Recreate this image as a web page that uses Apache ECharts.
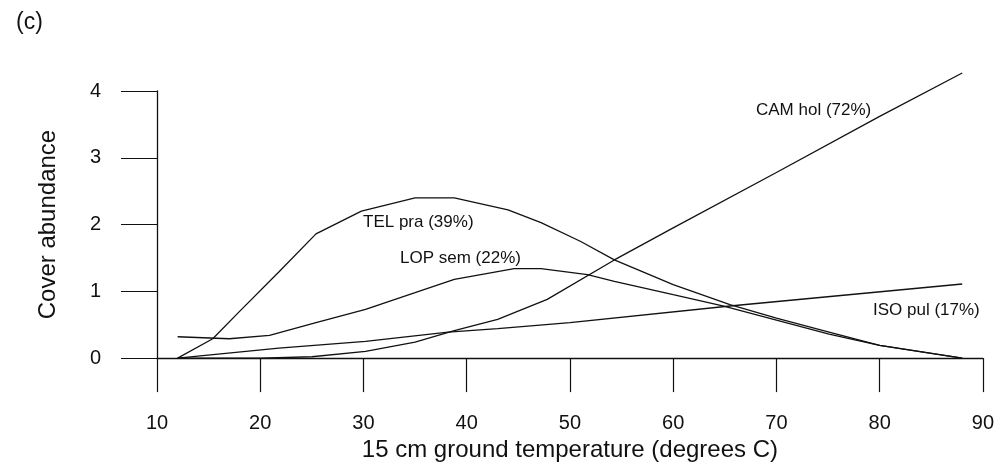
<!DOCTYPE html>
<html>
<head>
<meta charset="utf-8">
<script src="https://cdn.jsdelivr.net/npm/echarts@6/dist/echarts.min.js"></script>
<style>
html,body{margin:0;padding:0;background:#fff;}
#chart{width:997px;height:467px;}
</style>
</head>
<body>
<div id="chart"></div>
<script>
// ---- data ----
var xTicks = [10, 20, 30, 40, 50, 60, 70, 80, 90];
var yTicks = [0, 1, 2, 3, 4];

var telX = [12, 15.4, 18, 21.8, 25.4, 29.8, 35, 38.8, 44, 47.2, 51, 54.3, 60, 65.5, 70, 75.1, 80, 88];
var telY = [0, 0.29, 0.70, 1.29, 1.86, 2.2, 2.4, 2.4, 2.22, 2.03, 1.75, 1.47, 1.1, 0.80, 0.6, 0.39, 0.19, 0];

var lopX = [12, 17, 20.9, 25.4, 30.2, 35, 38.8, 44.6, 47.2, 51.7, 54.3, 60, 64.9, 70, 75.1, 80, 88];
var lopY = [0.32, 0.29, 0.34, 0.53, 0.73, 0.98, 1.18, 1.34, 1.34, 1.25, 1.15, 0.95, 0.78, 0.57, 0.36, 0.19, 0];

var isoX = [12, 21.8, 30.2, 38.2, 43, 50, 65.5, 88];
var isoY = [0, 0.15, 0.25, 0.39, 0.44, 0.53, 0.78, 1.11];

var camX = [12, 20, 25, 30.2, 35, 38.8, 43, 47.8, 54.3, 60, 70, 80, 88];
var camY = [0, 0, 0.02, 0.10, 0.24, 0.41, 0.58, 0.88, 1.47, 1.95, 2.78, 3.62, 4.27];

var seriesNames = ['TEL pra (39%)', 'LOP sem (22%)', 'ISO pul (17%)', 'CAM hol (72%)'];
var xTitle = '15 cm ground temperature (degrees C)';
var yTitle = 'Cover abundance';
var panelTag = '(c)';

function pairs(xs, ys) { return xs.map(function (x, i) { return [x, ys[i]]; }); }

var FONT = '"Liberation Sans", Arial, sans-serif';
var chart = echarts.init(document.getElementById('chart'), null, {renderer: 'canvas'});

var lineStyle = {color: '#111', width: 1.3};
function mkSeries(name, xs, ys) {
  return {name: name, type: 'line', data: pairs(xs, ys), showSymbol: false, symbol: 'none',
    clip: false, lineStyle: lineStyle, animation: false, silent: true, z: 3};
}

var labelPos = [
  {text: seriesNames[0], left: 363, y: 222},
  {text: seriesNames[1], left: 400, y: 258},
  {text: seriesNames[3], left: 756, y: 110},
  {text: seriesNames[2], left: 873, y: 310}
];

var graphics = labelPos.map(function (l) {
  return {type: 'text', left: l.left, top: l.y - 8, z: 10,
    style: {text: l.text, font: '17px ' + FONT, fill: '#111'}};
});
graphics.push({type: 'text', left: 16, top: 11, z: 10,
  style: {text: panelTag, font: '23px ' + FONT, fill: '#111'}});

chart.setOption({
  animation: false,
  backgroundColor: '#fff',
  grid: {left: 157, right: 9, top: 91, bottom: 104, containLabel: false},
  xAxis: {
    type: 'value', min: xTicks[0], max: xTicks[xTicks.length - 1], interval: 10,
    name: xTitle, nameLocation: 'middle', nameGap: 78,
    nameTextStyle: {fontFamily: FONT, fontSize: 24, color: '#111'},
    axisLine: {show: true, onZero: false, lineStyle: {color: '#111', width: 1.3}},
    axisTick: {show: true, inside: false, length: 34, lineStyle: {color: '#111', width: 1.2}},
    axisLabel: {margin: 55, fontFamily: FONT, fontSize: 20, color: '#111'},
    splitLine: {show: false}
  },
  yAxis: {
    type: 'value', min: yTicks[0], max: yTicks[yTicks.length - 1], interval: 1,
    name: yTitle, nameLocation: 'middle', nameGap: 97,
    nameTextStyle: {fontFamily: FONT, fontSize: 24, color: '#111'},
    axisLine: {show: true, onZero: false, lineStyle: {color: '#111', width: 1.3}},
    axisTick: {show: true, inside: false, length: 36, lineStyle: {color: '#111', width: 1.2}},
    axisLabel: {margin: 56, fontFamily: FONT, fontSize: 20, color: '#111'},
    splitLine: {show: false}
  },
  series: [
    mkSeries(seriesNames[0], telX, telY),
    mkSeries(seriesNames[1], lopX, lopY),
    mkSeries(seriesNames[2], isoX, isoY),
    mkSeries(seriesNames[3], camX, camY)
  ],
  graphic: graphics
});
</script>
</body>
</html>
